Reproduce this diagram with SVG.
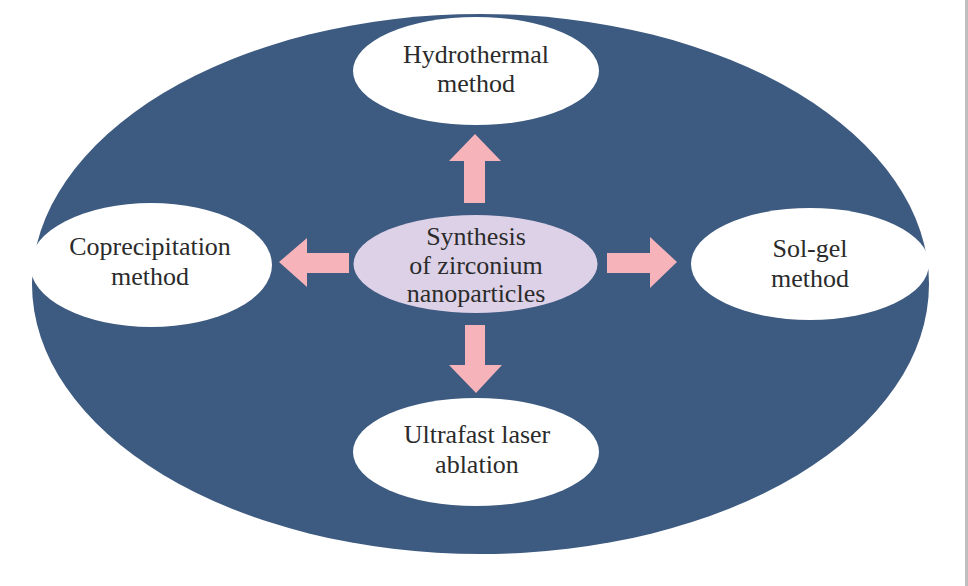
<svg xmlns="http://www.w3.org/2000/svg" width="968" height="586" viewBox="0 0 968 586">
<style>
.lbl{font-family:"Liberation Serif","Times New Roman",serif;font-size:26px;fill:#2b2b2b;text-anchor:middle}
.node{fill:#ffffff}
.arrow{fill:#f6b3ba}
</style>
<rect x="0" y="0" width="968" height="586" fill="#ffffff"/>
<rect x="965" y="0" width="3" height="586" fill="#bfbfbf"/>
<g id="background">
<ellipse cx="480.5" cy="284" rx="448.5" ry="270" fill="#3d5a80"/>
</g>
<g id="connectors">
<polygon class="arrow" points="475,134 501,161 485,161 485,203 464,203 464,161 449,161"/>
<polygon class="arrow" points="476,393 502,365 485,365 485,325 465,325 465,365 449,365"/>
<polygon class="arrow" points="279,262 307,238 307,253 349,253 349,273 307,273 307,287"/>
<polygon class="arrow" points="677,262 650,237 650,253 607,253 607,273 650,273 650,288"/>
</g>
<g id="center">
<ellipse cx="475.5" cy="264" rx="122" ry="49" fill="#ddd1e7"/>
<text class="lbl" x="476" y="245">Synthesis</text>
<text class="lbl" x="476" y="274">of zirconium</text>
<text class="lbl" x="476" y="302">nanoparticles</text>
</g>
<g id="hydrothermal">
<ellipse class="node" cx="476" cy="71" rx="123" ry="54"/>
<text class="lbl" x="476" y="63">Hydrothermal</text>
<text class="lbl" x="476" y="92">method</text>
</g>
<g id="ultrafast">
<ellipse class="node" cx="476" cy="452" rx="123" ry="54"/>
<text class="lbl" x="477" y="443">Ultrafast laser</text>
<text class="lbl" x="477" y="473">ablation</text>
</g>
<g id="coprecipitation">
<ellipse class="node" cx="151" cy="265" rx="121" ry="62"/>
<text class="lbl" x="150" y="255">Coprecipitation</text>
<text class="lbl" x="150" y="285">method</text>
</g>
<g id="solgel">
<ellipse class="node" cx="810" cy="264" rx="119" ry="56"/>
<text class="lbl" x="810" y="257">Sol-gel</text>
<text class="lbl" x="810" y="287">method</text>
</g>
</svg>
